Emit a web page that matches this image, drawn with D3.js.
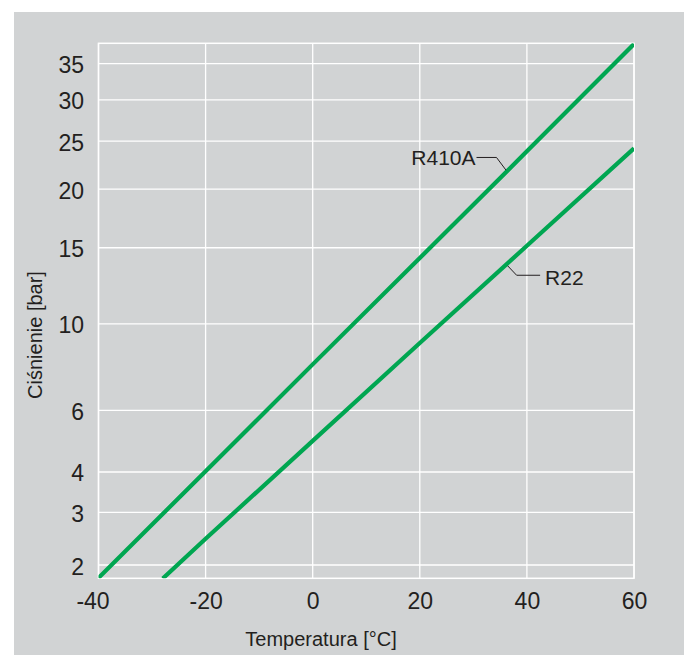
<!DOCTYPE html>
<html>
<head>
<meta charset="utf-8">
<script src="https://cdn.jsdelivr.net/npm/d3@7"></script>
<style>
  html, body { margin: 0; padding: 0; background: #ffffff; }
  svg { display: block; }
  text { font-family: "Liberation Sans", Arial, Helvetica, sans-serif; fill: #231f20; }
</style>
</head>
<body>
<script>
// ---- data ----
const xTicks = [-40, -20, 0, 20, 40, 60];
const yTicks = [2, 3, 4, 6, 10, 15, 20, 25, 30, 35];
const xDomain = [-40, 60];
const yDomain = [1.794, 38.08];

const tempR410A = [-40, -20, 0, 20, 40, 60];
const pressR410A = [1.80, 4.02, 7.93, 14.23, 23.86, 37.98];

const tempR22 = [-28, -20, 0, 20, 40, 60];
const pressR22 = [1.79, 2.46, 4.93, 8.98, 15.15, 24.19];

const seriesNames = ["R410A", "R22"];
const labelTemps = [36.1, 36.4];   // where each leader touches its line

const xTitle = "Temperatura [°C]";
const yTitle = "Ciśnienie [bar]";

// ---- layout ----
const W = 684, H = 655;
const plot = { left: 98.5, right: 634, top: 43.3, bottom: 578.3 };
const GREEN = "#00a651";
const BG = "#d1d3d4";

const svg = d3.select("body").append("svg").attr("width", W).attr("height", H);

svg.append("rect").attr("x", 14).attr("y", 12).attr("width", W - 14).attr("height", H - 12).attr("fill", BG);

const x = d3.scaleLinear().domain(xDomain).range([plot.left, plot.right]);
const y = d3.scalePow().exponent(0.23).domain(yDomain).range([plot.bottom, plot.top]);

// grid
const g = svg.append("g");
g.selectAll("line.vx").data(xTicks).join("line")
  .attr("x1", d => x(d)).attr("x2", d => x(d))
  .attr("y1", plot.top).attr("y2", plot.bottom)
  .attr("stroke", "#ffffff").attr("stroke-width", 1.3);
g.selectAll("line.hy").data(yTicks).join("line")
  .attr("x1", plot.left).attr("x2", plot.right)
  .attr("y1", d => y(d)).attr("y2", d => y(d))
  .attr("stroke", "#ffffff").attr("stroke-width", 1.3);
g.append("rect")
  .attr("x", plot.left).attr("y", plot.top)
  .attr("width", plot.right - plot.left).attr("height", plot.bottom - plot.top)
  .attr("fill", "none").attr("stroke", "#ffffff").attr("stroke-width", 1.5);

// axes (labels only)
const fmt = d => String(d);   // plain hyphen-minus as in the reference
const xAxis = d3.axisBottom(x).tickValues(xTicks).tickFormat(fmt).tickSize(0).tickPadding(0);
const xa = svg.append("g").attr("transform", `translate(0,${plot.bottom})`).call(xAxis);
xa.select(".domain").remove();
xa.selectAll("text").attr("font-size", 23).attr("dy", null).attr("y", 31)
  .attr("dx", d => d < 0 && d === xTicks[0] ? -6 : 0)
  .attr("font-family", "Liberation Sans, Arial, sans-serif").attr("fill", "#231f20");

const yAxis = d3.axisLeft(y).tickValues(yTicks).tickFormat(fmt).tickSize(0).tickPadding(0);
const ya = svg.append("g").attr("transform", `translate(${plot.left},0)`).call(yAxis);
ya.select(".domain").remove();
ya.selectAll("text").attr("font-size", 23).attr("dy", null).attr("y", 9).attr("x", -14.5)
  .attr("font-family", "Liberation Sans, Arial, sans-serif").attr("fill", "#231f20");

// titles
svg.append("text").attr("x", 321).attr("y", 646).attr("text-anchor", "middle")
  .attr("font-size", 20).text(xTitle);
svg.append("text").attr("transform", "translate(42,335) rotate(-90)").attr("text-anchor", "middle")
  .attr("font-size", 20).text(yTitle);

// lines
svg.append("clipPath").attr("id", "clip").append("rect")
  .attr("x", plot.left).attr("y", plot.top)
  .attr("width", plot.right - plot.left).attr("height", plot.bottom - plot.top);

const series = [
  { name: seriesNames[0], t: tempR410A, p: pressR410A },
  { name: seriesNames[1], t: tempR22, p: pressR22 }
];
const line = d3.line().x(d => x(d[0])).y(d => y(d[1]));
svg.append("g").attr("clip-path", "url(#clip)")
  .selectAll("path").data(series).join("path")
  .attr("d", s => line(s.t.map((t, i) => [t, s.p[i]])))
  .attr("fill", "none").attr("stroke", GREEN).attr("stroke-width", 4.2);

// leader labels
function pAt(s, t) {
  const i = d3.bisectRight(s.t, t) - 1;
  const k = (t - s.t[i]) / (s.t[i + 1] - s.t[i]);
  const y0 = y(s.p[i]), y1 = y(s.p[i + 1]);
  return y0 + k * (y1 - y0);
}
const lab = svg.append("g");
{
  const s = series[0], t = labelTemps[0];
  const ax = x(t), ay = pAt(s, t) - 2;
  lab.append("path").attr("d", `M${ax},${ay} L${ax - 9.5},${ay - 12.7} L${ax - 29.5},${ay - 12.7}`)
    .attr("fill", "none").attr("stroke", "#231f20").attr("stroke-width", 1);
  lab.append("text").attr("x", ax - 30.5).attr("y", ay - 12.7 + 7.3).attr("text-anchor", "end")
    .attr("font-size", 21).text(s.name);
}
{
  const s = series[1], t = labelTemps[1];
  const ax = x(t), ay = pAt(s, t) + 2.5;
  lab.append("path").attr("d", `M${ax},${ay} L${ax + 9},${ay + 9.5} L${ax + 32.5},${ay + 9.5}`)
    .attr("fill", "none").attr("stroke", "#231f20").attr("stroke-width", 1);
  lab.append("text").attr("x", ax + 37.5).attr("y", ay + 9.5 + 9.3).attr("text-anchor", "start")
    .attr("font-size", 21).text(s.name);
}
</script>
</body>
</html>
